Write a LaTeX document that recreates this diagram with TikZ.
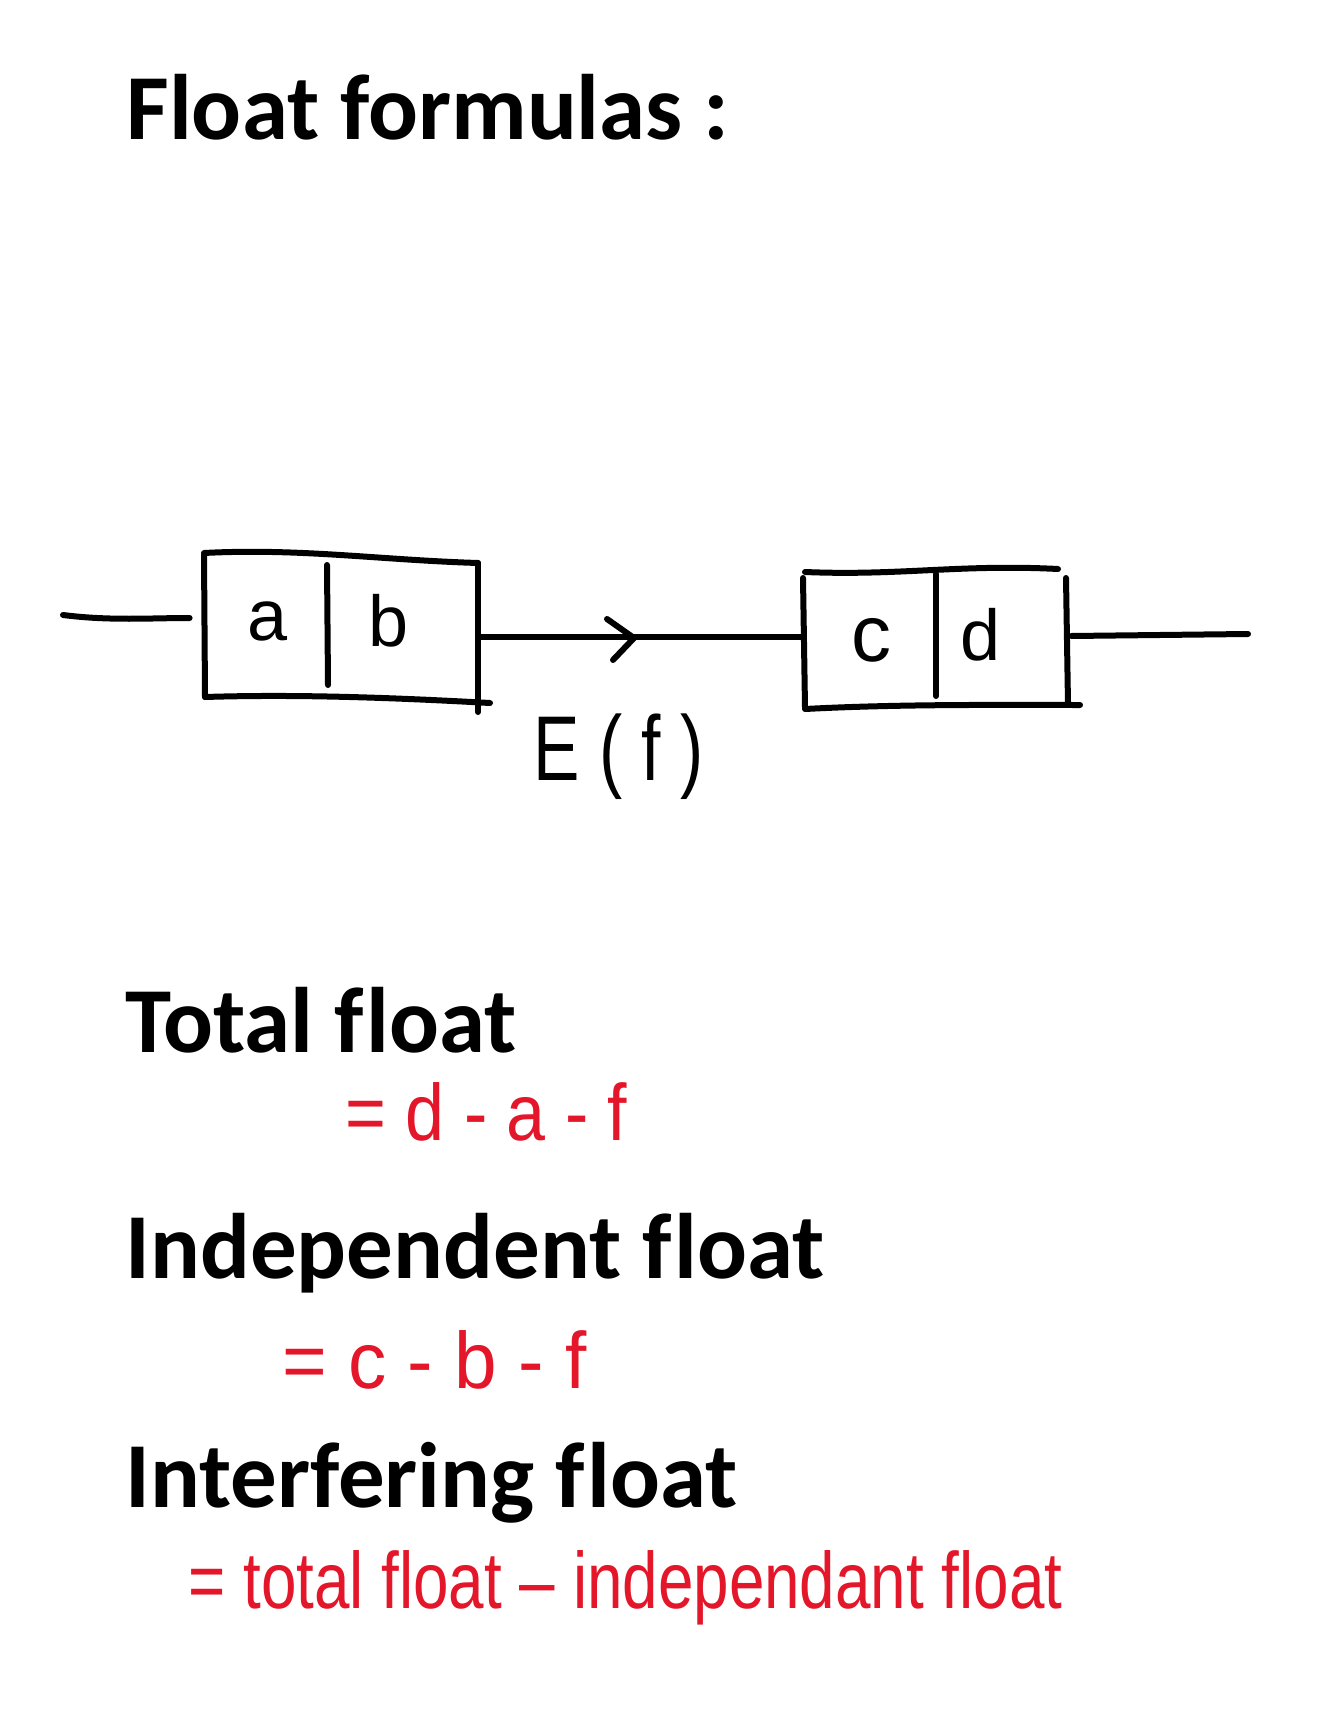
\documentclass[tikz,border=0pt]{standalone}
\usepackage{fontspec}
\usepackage{graphicx}
\setmainfont{Carlito}[Ligatures=NoCommon]
\newfontfamily\handfont{Liberation Sans}[Ligatures=NoCommon]
\usetikzlibrary{fit}
\definecolor{inkred}{RGB}{228,22,42}
\newcommand{\fitw}[2]{\resizebox{#1}{\height}{#2}}
\newcommand{\flsep}{f\kern0.03em l}
\begin{document}
\begin{tikzpicture}[x=0.5pt,y=-0.5pt,
  heading/.style={anchor=base west, inner sep=0pt, font=\fontsize{46.5}{50}\selectfont\bfseries},
  redhand/.style={anchor=base west, inner sep=0pt, text=inkred, font=\handfont\fontsize{40}{44}\selectfont},
  hand/.style={anchor=base, inner sep=0pt, font=\handfont\fontsize{36}{40}\selectfont},
  ink/.style={line width=3pt, line cap=round, line join=round},
  frame/.style={inner sep=0pt, draw=none}]
\fill[white] (0,0) rectangle (1334,1732);
\useasboundingbox (0,0) rectangle (1334,1732);

% title
\node[heading] (title) at (126,140) {Float formulas :};

% box a|b
\coordinate (abNW) at (204,555);
\coordinate (abSE) at (478,700);
\node[frame, fit=(abNW)(abSE)] (ab) {};
\draw[ink] (204,553) .. controls (300,548) and (380,560) .. (478,563);
\draw[ink] (204,555) -- (205,697);
\draw[ink] (478,563) -- (478,712);
\draw[ink] (205,697) .. controls (300,694) and (400,698) .. (490,703);
\draw[ink] (327,565) -- (328,685);
\node[hand] (la) at (268,640) {a};
\node[hand] (lb) at (389,646) {b};

% box c|d
\coordinate (cdNW) at (803,572);
\coordinate (cdSE) at (1066,707);
\node[frame, fit=(cdNW)(cdSE)] (cd) {};
\draw[ink] (805,572) .. controls (900,576) and (960,564) .. (1058,569);
\draw[ink] (803,578) -- (805,708);
\draw[ink] (1066,578) -- (1068,705);
\draw[ink] (805,709) .. controls (900,704) and (1000,705) .. (1080,705);
\draw[ink] (936,574) -- (936,696);
\node[hand, font=\handfont\fontsize{40}{44}\selectfont] (lc) at (871,661) {c};
\node[hand] (ld) at (981,660) {d};

% connectors
\coordinate (inL) at (63,615);
\coordinate (outR) at (1248,634);
\draw[ink] (inL) .. controls (110,621) and (150,618) .. ([xshift=-7pt,yshift=4.75pt]ab.west);
\draw[ink] ([yshift=-4.75pt]ab.east) -- ([yshift=1.25pt]cd.west);
\draw[ink] (607,619) -- (634,638) -- (613,660);
\draw[ink] ([xshift=2.5pt,yshift=1.75pt]cd.east) -- (outR);
\node[anchor=base west, inner sep=0pt, font=\handfont\fontsize{46}{50}\selectfont] (ef) at (533,780) {\fitw{85pt}{E ( f )}};

% formulas
\node[heading] (tf) at (125,1052) {Total \flsep oat};
\node[redhand] (tfx) at (345,1140) {\fitw{141pt}{= d - a - f}};
\node[heading] (inf) at (125,1278) {Independent \flsep oat};
\node[redhand] (infx) at (282,1388) {\fitw{152pt}{= c - b - f}};
\node[heading] (itf) at (125,1507) {Interfering \flsep oat};
\node[redhand] (itfx) at (188,1608) {\fitw{437pt}{= total float – independant float}};
\end{tikzpicture}
\end{document}
